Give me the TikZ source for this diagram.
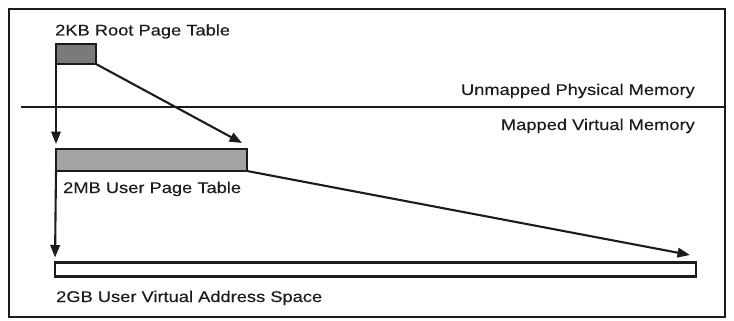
\documentclass[tikz,border=0pt]{standalone}
\usepackage{fontspec}
\setmainfont[FakeStretch=1.18, FakeBold=0.3]{Liberation Sans}
\usetikzlibrary{arrows.meta}
\definecolor{inkgray}{HTML}{1C1C1C}
\definecolor{rootfill}{HTML}{7A7A7A}
\definecolor{userfill}{HTML}{A3A3A3}
\tikzset{
  tbl/.style={draw=inkgray, line width=2.1pt, inner sep=0pt, outer sep=0pt},
  lbl/.style={inner sep=0pt, text=inkgray, font=\fontsize{15.5}{17}\selectfont},
  ptr/.style={draw=inkgray, line width=2.1pt, -{Triangle[length=12.5pt,width=9.5pt]}},
}
\begin{document}
\begin{tikzpicture}[x=1pt,y=-1pt]
\useasboundingbox (0,0) rectangle (734,321);
% outer frame
\draw[inkgray, line width=2.3pt] (9,9) rectangle (725,317);
% boundary between physical and virtual memory
\draw[inkgray, line width=2.1pt] (21,107) -- (725,107);
\node[lbl, anchor=base east] (unm) at (695,95) {Unmapped Physical Memory};
\node[lbl, anchor=base east] (map) at (695,130) {Mapped Virtual Memory};
% tables
\node[tbl, fill=rootfill, minimum width=40pt, minimum height=20pt] (root) at (76,54) {};
\node[lbl, anchor=base west] (rootlbl) at (55,35.5) {2KB Root Page Table};
\node[tbl, fill=userfill, minimum width=191pt, minimum height=22pt] (upt) at (151.5,160) {};
\node[lbl, anchor=base west] (uptlbl) at (63,193) {2MB User Page Table};
\node[tbl, fill=white, line width=2.8pt, minimum width=641pt, minimum height=14pt] (vas) at (375.5,269.5) {};
\node[lbl, anchor=base west] (vaslbl) at (56,302) {2GB User Virtual Address Space};
% pointer targets
\coordinate (uptend) at (242,143);
\coordinate (vasend) at (690,255);
% pointers
\draw[ptr, shorten >=5pt] (root.south west) -- (upt.north west);
\draw[ptr] (root.south east) -- (uptend);
\draw[ptr, shorten >=5pt] (upt.south west) -- (vas.north west);
\draw[ptr] (upt.south east) -- (vasend);
\end{tikzpicture}
\end{document}
